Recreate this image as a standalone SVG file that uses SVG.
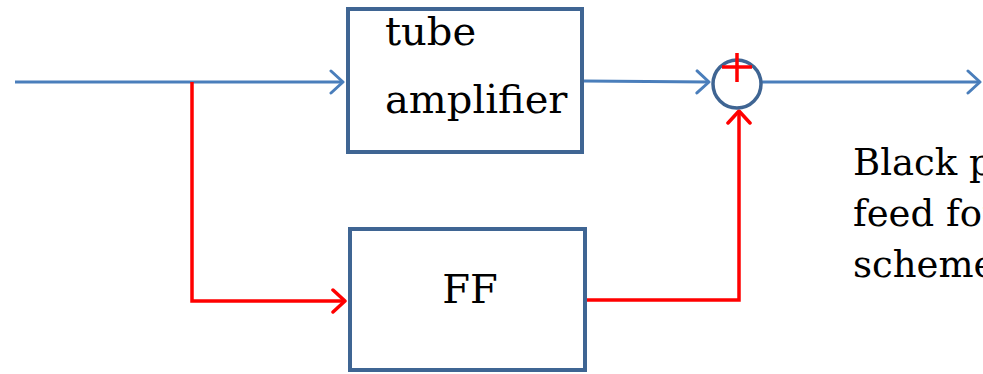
<svg xmlns="http://www.w3.org/2000/svg" width="983" height="374" viewBox="0 0 983 374">
<defs>
<style>
.box{fill:#fff;stroke:#3F6593;stroke-width:4}
.blue{fill:none;stroke:#4A7EBB;stroke-width:3}
.red{fill:none;stroke:#FF0000;stroke-width:3.5}
.lbl{font-family:"DejaVu Serif","Liberation Serif",serif;font-size:40px;fill:#000}
.note{font-family:"DejaVu Serif","Liberation Serif",serif;font-size:37px;fill:#000}
</style>
<marker id="ab" markerUnits="userSpaceOnUse" markerWidth="18" markerHeight="26" refX="14" refY="13" orient="auto">
<path d="M2,2 L14,13 L2,24" fill="none" stroke="#4A7EBB" stroke-width="3" stroke-linecap="round" stroke-linejoin="round"/>
</marker>
<marker id="ar" markerUnits="userSpaceOnUse" markerWidth="18" markerHeight="26" refX="14" refY="13" orient="auto">
<path d="M2,2 L14,13 L2,24" fill="none" stroke="#FF0000" stroke-width="3.5" stroke-linecap="round" stroke-linejoin="round"/>
</marker>
</defs>
<g id="connectors">
<path class="blue" d="M15,82 L343,82" marker-end="url(#ab)"/>
<path class="blue" d="M584,81 L709,82" marker-end="url(#ab)"/>
<path class="blue" d="M761,82 L980,82" marker-end="url(#ab)"/>
<path class="red" d="M192,82 L192,301 L345,301" marker-end="url(#ar)"/>
<path class="red" d="M587,300 L739,300 L739,111" marker-end="url(#ar)"/>
</g>
<g id="tube">
<rect class="box" x="348" y="9" width="234" height="143"/>
<text class="lbl" x="385" y="45">tube</text>
<text class="lbl" x="385" y="113">amplifier</text>
</g>
<g id="ff">
<rect class="box" x="350" y="229" width="235" height="141"/>
<text class="lbl" x="470" y="303" text-anchor="middle" font-size="42">FF</text>
</g>
<g id="sum">
<circle cx="737" cy="84" r="24" fill="none" stroke="#3F6593" stroke-width="3.5"/>
<path d="M722,67 L752,67 M737,53 L737,82" fill="none" stroke="#FF0000" stroke-width="3.5"/>
</g>
<g id="note">
<text class="note" x="853" y="175">Black p</text>
<text class="note" x="853" y="226">feed for</text>
<text class="note" x="853" y="277">scheme</text>
</g>
</svg>
